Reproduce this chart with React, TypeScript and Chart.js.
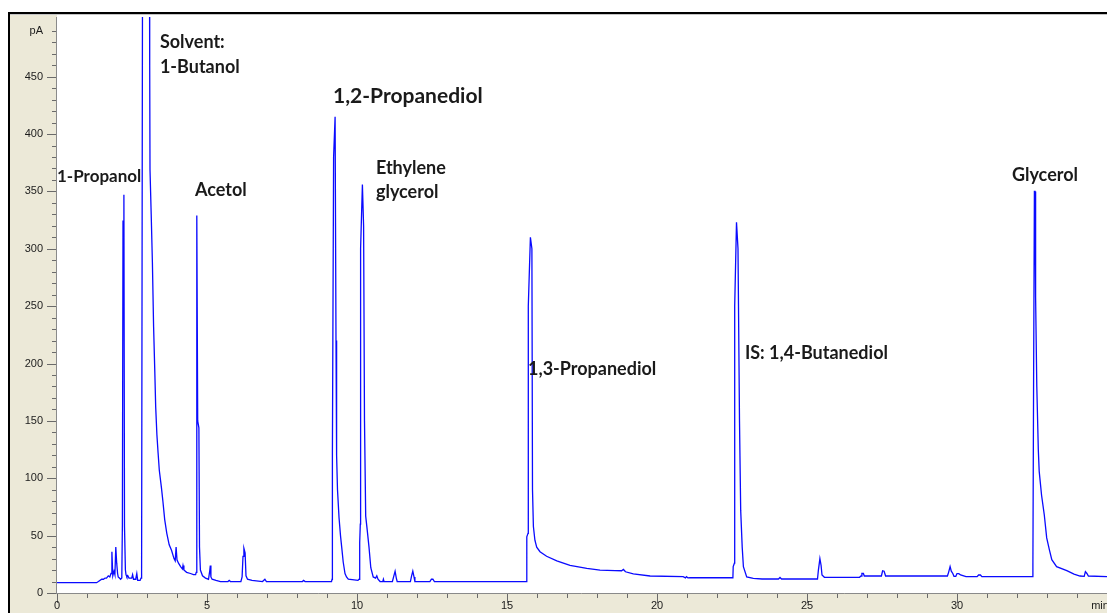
import React, { useEffect, useRef } from "react";
import { Chart, registerables } from "chart.js";

Chart.register(...registerables);

// Retention time (min) and detector signal (pA)
const retentionTimes = [
  0.0, 1.32, 1.38, 1.49, 1.55, 1.6, 1.65, 1.71, 1.76, 1.8, 1.83, 1.86, 1.9, 1.93, 1.96, 1.99, 2.02, 2.04, 2.08, 2.12, 2.16,
  2.18, 2.2, 2.23, 2.25, 2.28, 2.3, 2.33, 2.36, 2.4, 2.45, 2.49, 2.52, 2.55, 2.6, 2.63, 2.66, 2.69, 2.74, 2.77, 2.8, 2.82,
  2.86, 3.07, 3.09, 3.1, 3.14, 3.18, 3.22, 3.26, 3.29, 3.33, 3.37, 3.41, 3.48, 3.53, 3.59, 3.66, 3.74, 3.82, 3.9, 3.94,
  3.97, 4.0, 4.05, 4.12, 4.18, 4.2, 4.23, 4.32, 4.45, 4.55, 4.62, 4.64, 4.655, 4.665, 4.69, 4.73, 4.75, 4.78, 4.85, 4.95,
  5.05, 5.09, 5.11, 5.13, 5.17, 5.3, 5.45, 5.7, 5.74, 5.78, 6.13, 6.17, 6.2, 6.23, 6.27, 6.3, 6.35, 6.5, 6.85, 6.93, 6.98,
  8.18, 8.22, 8.27, 9.15, 9.17, 9.18, 9.22, 9.27, 9.3, 9.32, 9.35, 9.4, 9.45, 9.49, 9.54, 9.6, 9.65, 9.71, 10.03, 10.07,
  10.09, 10.11, 10.12, 10.18, 10.22, 10.25, 10.29, 10.34, 10.4, 10.46, 10.54, 10.62, 10.66, 10.7, 10.77, 10.86, 10.88, 10.9,
  11.18, 11.22, 11.27, 11.31, 11.34, 11.78, 11.82, 11.86, 11.9, 11.93, 12.43, 12.48, 12.53, 12.58, 15.65, 15.66, 15.7,
  15.71, 15.78, 15.83, 15.85, 15.88, 15.93, 15.99, 16.1, 16.32, 16.66, 17.1, 17.66, 18.1, 18.6, 18.82, 18.88, 18.95, 19.21,
  19.77, 20.87, 20.95, 20.98, 21.03, 21.1, 22.53, 22.54, 22.58, 22.59, 22.65, 22.7, 22.75, 22.79, 22.84, 22.88, 22.99, 23.21,
  23.5, 24.05, 24.1, 24.15, 25.35, 25.38, 25.43, 25.47, 25.5, 25.58, 26.75, 26.8, 26.83, 26.88, 26.91, 27.48, 27.52,
  27.57, 27.62, 29.68, 29.72, 29.77, 29.81, 29.86, 29.9, 29.96, 30.0, 30.06, 30.12, 30.3, 30.67, 30.72, 30.78, 30.83,
  32.5, 32.53, 32.555, 32.58, 32.6, 32.62, 32.66, 32.71, 32.74, 32.82, 32.91, 32.99, 33.08, 33.16, 33.32, 33.66, 33.9,
  34.1, 34.24, 34.28, 34.33, 34.38, 35.0,
];
const signalPA = [
  9, 9, 10, 12, 12, 13, 13, 15, 14, 17, 36, 15, 19, 16, 40, 26, 17, 14, 13, 12, 13,
  60, 324, 347, 58, 20, 16, 14, 15, 13, 13, 13, 16, 12, 12, 13, 17, 11, 11, 11, 13, 17,
  700, 700, 460, 369, 330, 288, 232, 193, 162, 138, 122, 107, 92, 80, 64, 52, 42, 37, 30, 28,
  40, 29, 26, 23, 21, 24, 20, 18, 17, 16, 16, 18, 280, 329, 150, 144, 40, 20, 15, 13,
  12, 19, 24, 14, 12, 11, 10, 10, 11, 10, 10, 14, 32, 39, 35, 15, 12, 11, 10, 12, 10,
  10, 11, 10, 10, 12, 122, 380, 415, 220, 120, 90, 66, 50, 40, 27, 17, 14, 12, 11, 12,
  44, 60, 300, 356, 320, 150, 67, 55, 40, 22, 14, 13, 15, 12, 10, 10, 12, 10,
  10, 14, 19, 13, 10, 10, 15, 19, 14, 10, 10, 12, 12, 10, 10, 49, 52,
  250, 310, 300, 90, 58, 46, 40, 36, 32, 28, 24, 21.5, 20, 19.5, 19.4, 20.5, 18.5, 16.6,
  14.8, 14.2, 13.2, 14.2, 13.2, 13.3, 13.3, 23, 26, 250, 323, 300, 150, 72, 40, 23, 14, 12.8,
  12.2, 12.2, 13.5, 12.2, 12.2, 20, 30, 24, 15.7, 13.7, 13.7, 14.8, 17, 17, 14.8, 14.8, 19.4,
  19, 14.8, 14.8, 18, 23, 19, 17, 14.5, 14.5, 16.9, 16.9, 15.7, 14.2, 14.2, 15.7, 15.7, 14.2,
  14.2, 26, 197, 350, 350, 258, 180, 125, 106, 85, 68, 48, 37.5, 29, 23, 19.5, 16.5,
  14.8, 14.5, 18.6, 17, 14.8, 14.2,
];

// Axis ranges and tick labels
const timeMin = 0;
const timeMax = 35;
const signalMin = 0;
const signalMax = 502;
const xLabelValues = [0, 5, 10, 15, 20, 25, 30, 35];
const xLabelTexts = ["0", "5", "10", "15", "20", "25", "30", "min"];
const yLabelValues = [0, 50, 100, 150, 200, 250, 300, 350, 400, 450, 490];
const yLabelTexts = ["0", "50", "100", "150", "200", "250", "300", "350", "400", "450", "pA"];

// Peak annotations (text anchored at time / signal)
const peakLabels = ["1-Propanol", "Solvent:", "1-Butanol", "Acetol", "1,2-Propanediol", "Ethylene", "glycerol", "1,3-Propanediol", "IS: 1,4-Butanediol", "Glycerol"];
const peakLabelTimes = [0.0, 3.43, 3.43, 4.6, 9.2, 10.63, 10.63, 15.7, 22.93, 31.83];
const peakLabelSignals = [363, 480, 458, 351, 433, 370, 349, 195, 209, 364];

const BEIGE = "rgb(236,233,216)";
const AXIS_FONT = "'Liberation Sans Narrow', 'Liberation Sans', sans-serif";
const LABEL_FONT = "Lato, 'Noto Sans', sans-serif";

const framePlugin = {
  id: "frame",
  beforeDraw(chart: any) {
    const { ctx, width, height, chartArea } = chart;
    ctx.save();
    ctx.fillStyle = "#ffffff";
    ctx.fillRect(0, 0, width, height);
    ctx.fillStyle = BEIGE;
    ctx.fillRect(10, 15, chartArea.left - 10, height - 15);
    ctx.fillRect(10, chartArea.bottom, width - 10, height - chartArea.bottom);
    ctx.fillStyle = "#c4c4c4";
    ctx.fillRect(10, 14, width - 10, 1);
    ctx.fillStyle = "#000000";
    ctx.fillRect(8, 12, width - 8, 2);
    ctx.fillRect(8, 12, 2, height - 12);
    ctx.restore();
  },
  afterDraw(chart: any) {
    const { ctx, chartArea } = chart;
    const xs = chart.scales.x;
    const ys = chart.scales.y;
    ctx.save();
    // axis lines
    ctx.strokeStyle = "#8a8a8a";
    ctx.lineWidth = 1;
    ctx.beginPath();
    ctx.moveTo(chartArea.left - 0.5, chartArea.top);
    ctx.lineTo(chartArea.left - 0.5, chartArea.bottom + 1);
    ctx.moveTo(chartArea.left - 1, chartArea.bottom + 0.5);
    ctx.lineTo(chartArea.right, chartArea.bottom + 0.5);
    ctx.stroke();
    // tick marks
    ctx.strokeStyle = "#6a6a6a";
    ctx.beginPath();
    for (let v = 0; v <= 490; v += 10) {
      const py = Math.round(ys.getPixelForValue(v)) + 0.5;
      const len = v % 50 === 0 ? 9 : 4;
      ctx.moveTo(chartArea.left - 1 - len, py);
      ctx.lineTo(chartArea.left - 1, py);
    }
    for (let t = 0; t <= 35; t += 1) {
      const px = Math.round(xs.getPixelForValue(t)) + 0.5;
      const len = t % 5 === 0 ? 9 : 4;
      ctx.moveTo(px, chartArea.bottom + 1);
      ctx.lineTo(px, chartArea.bottom + 1 + len);
    }
    ctx.stroke();
    // tick labels
    ctx.fillStyle = "#1c1c1c";
    ctx.font = `11px ${AXIS_FONT}`;
    ctx.textBaseline = "middle";
    ctx.textAlign = "right";
    yLabelValues.forEach((v, i) => {
      ctx.fillText(yLabelTexts[i], chartArea.left - 14, ys.getPixelForValue(v));
    });
    ctx.textAlign = "center";
    xLabelValues.forEach((v, i) => {
      const last = i === xLabelValues.length - 1;
      ctx.fillText(xLabelTexts[i], xs.getPixelForValue(v) - (last ? 7 : 0), chartArea.bottom + 13);
    });
    ctx.restore();
  },
  afterDatasetsDraw(chart: any) {
    const { ctx } = chart;
    const xs = chart.scales.x;
    const ys = chart.scales.y;
    ctx.save();
    ctx.fillStyle = "#1a1a1a";
    ctx.textAlign = "left";
    ctx.textBaseline = "middle";
    peakLabels.forEach((txt, i) => {
      const size = txt === "1,2-Propanediol" ? 21 : txt === "1-Propanol" ? 17 : 18;
      ctx.font = `bold ${size}px ${LABEL_FONT}`;
      ctx.fillText(txt, xs.getPixelForValue(peakLabelTimes[i]), ys.getPixelForValue(peakLabelSignals[i]));
    });
    ctx.restore();
  },
};

export default function App() {
  const canvasRef = useRef<HTMLCanvasElement | null>(null);
  useEffect(() => {
    document.body.style.margin = "0";
    const canvas = canvasRef.current;
    if (!canvas) return;
    const points = retentionTimes.map((t, i) => ({ x: t, y: signalPA[i] }));
    const chart = new Chart(canvas, {
      type: "line",
      data: {
        datasets: [
          {
            data: points,
            borderColor: "rgb(10,10,255)",
            borderWidth: 1.3,
            pointRadius: 0,
            tension: 0,
            fill: false,
          },
        ],
      },
      options: {
        animation: false,
        responsive: false,
        devicePixelRatio: 1,
        layout: { padding: { top: 17, left: 57, right: 0, bottom: 20 }, autoPadding: false },
        plugins: { legend: { display: false }, tooltip: { enabled: false } },
        scales: {
          x: { type: "linear", min: timeMin, max: timeMax, display: false },
          y: { type: "linear", min: signalMin, max: signalMax, display: false },
        },
      },
      plugins: [framePlugin],
    });
    return () => chart.destroy();
  }, []);
  return (
    <div style={{ position: "fixed", left: 0, top: 0, width: 1107, height: 613 }}>
      <canvas ref={canvasRef} width={1107} height={613} style={{ display: "block" }} />
    </div>
  );
}
